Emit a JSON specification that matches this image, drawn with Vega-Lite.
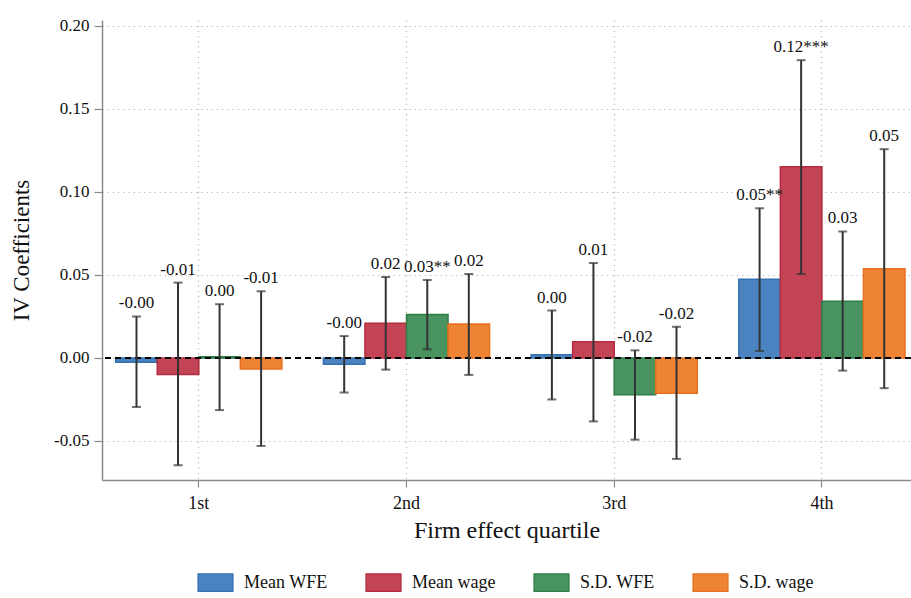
{
  "$schema": "https://vega.github.io/schema/vega-lite/v6.json",
  "autosize": "none",
  "width": 809,
  "height": 460,
  "padding": {"left": 102, "top": 20, "right": 0, "bottom": 118},
  "background": "white",
  "config": {
    "view": {"stroke": null},
    "font": "Liberation Serif",
    "axis": {
      "labelFont": "Liberation Serif",
      "titleFont": "Liberation Serif",
      "labelColor": "#111",
      "titleColor": "#111",
      "titleFontWeight": "normal",
      "domainColor": "#8a8a8a",
      "domainWidth": 1.5,
      "tickColor": "#8a8a8a",
      "tickWidth": 1.2,
      "gridColor": "#b5b5b5",
      "gridDash": [1.2, 4],
      "gridWidth": 1.2
    },
    "legend": {
      "labelFont": "Liberation Serif",
      "labelColor": "#111"
    }
  },
  "data": {
    "values": [
      {"quartile": "1st", "series": "Mean WFE", "coef": -0.0025, "lo": -0.0296, "hi": 0.0250, "label": "-0.00"},
      {"quartile": "1st", "series": "Mean wage", "coef": -0.0100, "lo": -0.0646, "hi": 0.0454, "label": "-0.01"},
      {"quartile": "1st", "series": "S.D. WFE", "coef": 0.0008, "lo": -0.0314, "hi": 0.0324, "label": "0.00"},
      {"quartile": "1st", "series": "S.D. wage", "coef": -0.0066, "lo": -0.0530, "hi": 0.0402, "label": "-0.01"},
      {"quartile": "2nd", "series": "Mean WFE", "coef": -0.0038, "lo": -0.0208, "hi": 0.0132, "label": "-0.00"},
      {"quartile": "2nd", "series": "Mean wage", "coef": 0.0210, "lo": -0.0070, "hi": 0.0488, "label": "0.02"},
      {"quartile": "2nd", "series": "S.D. WFE", "coef": 0.0262, "lo": 0.0052, "hi": 0.0470, "label": "0.03**"},
      {"quartile": "2nd", "series": "S.D. wage", "coef": 0.0204, "lo": -0.0102, "hi": 0.0506, "label": "0.02"},
      {"quartile": "3rd", "series": "Mean WFE", "coef": 0.0020, "lo": -0.0250, "hi": 0.0286, "label": "0.00"},
      {"quartile": "3rd", "series": "Mean wage", "coef": 0.0098, "lo": -0.0382, "hi": 0.0572, "label": "0.01"},
      {"quartile": "3rd", "series": "S.D. WFE", "coef": -0.0222, "lo": -0.0492, "hi": 0.0046, "label": "-0.02"},
      {"quartile": "3rd", "series": "S.D. wage", "coef": -0.0212, "lo": -0.0608, "hi": 0.0188, "label": "-0.02"},
      {"quartile": "4th", "series": "Mean WFE", "coef": 0.0474, "lo": 0.0042, "hi": 0.0902, "label": "0.05**"},
      {"quartile": "4th", "series": "Mean wage", "coef": 0.1152, "lo": 0.0506, "hi": 0.1794, "label": "0.12***"},
      {"quartile": "4th", "series": "S.D. WFE", "coef": 0.0342, "lo": -0.0076, "hi": 0.0762, "label": "0.03"},
      {"quartile": "4th", "series": "S.D. wage", "coef": 0.0538, "lo": -0.0182, "hi": 0.1258, "label": "0.05"}
    ]
  },
  "encoding": {
    "x": {
      "field": "quartile",
      "type": "nominal",
      "sort": ["1st", "2nd", "3rd", "4th"],
      "scale": {"paddingInner": 0.2, "paddingOuter": 0.0475, "align": 0.695},
      "axis": {
        "title": "Firm effect quartile",
        "titleFontSize": 24,
        "titlePadding": 6,
        "labelFontSize": 18,
        "labelAngle": 0,
        "labelPadding": 7,
        "tickSize": 7,
        "grid": true,
        "bandPosition": 0.5
      }
    },
    "xOffset": {
      "field": "series",
      "type": "nominal",
      "sort": ["Mean WFE", "Mean wage", "S.D. WFE", "S.D. wage"],
      "scale": {"paddingInner": 0, "paddingOuter": 0}
    }
  },
  "layer": [
    {
      "mark": {"type": "bar", "strokeWidth": 1.5, "fillOpacity": 1},
      "encoding": {
        "y": {
          "field": "coef",
          "type": "quantitative",
          "scale": {"domain": [-0.0735, 0.2036], "nice": false, "zero": false},
          "axis": {
            "title": "IV Coefficients",
            "titleFontSize": 23,
            "titlePadding": 20,
            "labelFontSize": 17,
            "labelPadding": 5,
            "tickSize": 8,
            "values": [-0.05, 0, 0.05, 0.1, 0.15, 0.2],
            "labelExpr": "replace(format(datum.value, '.2f'), '\u2212', '-')",
            "grid": true
          }
        },
        "y2": {"datum": 0},
        "fill": {
          "field": "series",
          "type": "nominal",
          "scale": {
            "domain": ["Mean WFE", "Mean wage", "S.D. WFE", "S.D. wage"],
            "range": ["#4a83c0", "#c24455", "#48935f", "#ec8434"]
          },
          "legend": {
            "title": null,
            "orient": "none",
            "direction": "horizontal",
            "columns": 4,
            "legendX": 95,
            "legendY": 544,
            "symbolType": "M-1,-0.5H1V0.5H-1Z",
            "symbolSize": 1225,
            "symbolStrokeWidth": 1.2,
            "symbolOpacity": 1,
            "labelFontSize": 18,
            "labelOffset": 10,
            "columnPadding": 35
          }
        },
        "stroke": {
          "field": "series",
          "type": "nominal",
          "scale": {
            "domain": ["Mean WFE", "Mean wage", "S.D. WFE", "S.D. wage"],
            "range": ["#3670b0", "#b52a3e", "#2e7d46", "#e8701f"]
          },
          "legend": {
            "title": null,
            "orient": "none",
            "direction": "horizontal",
            "columns": 4,
            "legendX": 95,
            "legendY": 544,
            "symbolType": "M-1,-0.5H1V0.5H-1Z",
            "symbolSize": 1225,
            "symbolStrokeWidth": 1.2,
            "labelFontSize": 18,
            "labelOffset": 10,
            "columnPadding": 35
          }
        }
      }
    },
    {
      "mark": {"type": "rule", "color": "#000000", "strokeWidth": 1.3, "strokeDash": [6, 4]},
      "encoding": {"y": {"datum": 0, "type": "quantitative"}, "x": null, "xOffset": null}
    },
    {
      "mark": {"type": "rule", "color": "#333333", "strokeWidth": 2},
      "encoding": {
        "y": {"field": "lo", "type": "quantitative"},
        "y2": {"field": "hi"}
      }
    },
    {
      "mark": {"type": "tick", "color": "#333333", "thickness": 2, "size": 9, "orient": "horizontal"},
      "encoding": {"y": {"field": "lo", "type": "quantitative"}}
    },
    {
      "mark": {"type": "tick", "color": "#333333", "thickness": 2, "size": 9, "orient": "horizontal"},
      "encoding": {"y": {"field": "hi", "type": "quantitative"}}
    },
    {
      "mark": {"type": "text", "fontSize": 17, "baseline": "alphabetic", "dy": -8, "color": "#111"},
      "encoding": {
        "y": {"field": "hi", "type": "quantitative"},
        "text": {"field": "label"}
      }
    }
  ]
}
